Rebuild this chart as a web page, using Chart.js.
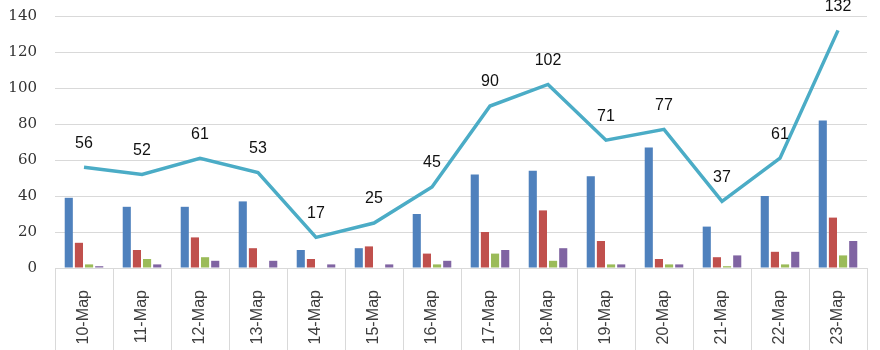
<!DOCTYPE html>
<html>
<head>
<meta charset="utf-8">
<script src="https://cdn.jsdelivr.net/npm/chart.js@4.4.0/dist/chart.umd.min.js"></script>
<style>
  html, body { margin: 0; padding: 0; background: #fff; }
  #wrap { width: 880px; height: 350px; }
</style>
</head>
<body>
<div id="wrap"><canvas id="chart"></canvas></div>
<script>
const days = ['10-Мар', '11-Мар', '12-Мар', '13-Мар', '14-Мар', '15-Мар', '16-Мар',
  '17-Мар', '18-Мар', '19-Мар', '20-Мар', '21-Мар', '22-Мар', '23-Мар'];
const blueVals = [39, 34, 34, 37, 10, 11, 30, 52, 54, 51, 67, 23, 40, 82];
const redVals = [14, 10, 17, 11, 5, 12, 8, 20, 32, 15, 5, 6, 9, 28];
const greenVals = [2, 5, 6, 0, 0, 0, 2, 8, 4, 2, 2, 1, 2, 7];
const purpleVals = [1, 2, 4, 4, 2, 2, 4, 10, 11, 2, 2, 7, 9, 15];
const totalVals = [56, 52, 61, 53, 17, 25, 45, 90, 102, 71, 77, 37, 61, 132];
const yTicks = [0, 20, 40, 60, 80, 100, 120, 140];

// line value labels, drawn above each point
const lineLabels = {
  id: 'lineLabels',
  afterDatasetsDraw(chart) {
    const ctx = chart.ctx;
    const meta = chart.getDatasetMeta(4);
    ctx.save();
    ctx.font = '16px "Liberation Sans", Arial, sans-serif';
    ctx.fillStyle = '#111';
    ctx.textAlign = 'center';
    ctx.textBaseline = 'middle';
    meta.data.forEach((pt, i) => {
      ctx.fillText(String(totalVals[i]), pt.x, pt.y - 24);
    });
    ctx.restore();
  }
};

// category separators through the label area
const separators = {
  id: 'separators',
  afterDraw(chart) {
    const ctx = chart.ctx;
    const x = chart.scales.x;
    const half = (x.getPixelForValue(1) - x.getPixelForValue(0)) / 2;
    ctx.save();
    ctx.strokeStyle = '#d9d9d9';
    ctx.lineWidth = 1;
    for (let i = 0; i <= days.length; i++) {
      const px = Math.round(x.getPixelForValue(0) - half + i * half * 2) + 0.5;
      ctx.beginPath();
      ctx.moveTo(px, chart.chartArea.bottom);
      ctx.lineTo(px, chart.height);
      ctx.stroke();
    }
    ctx.restore();
  }
};

const bar = (data, color) => ({
  type: 'bar', data, backgroundColor: color,
  categoryPercentage: 0.7, barPercentage: 0.8, order: 2
});

new Chart(document.getElementById('chart'), {
  data: {
    labels: days,
    datasets: [
      bar(blueVals, '#4f81bd'),
      bar(redVals, '#c0504d'),
      bar(greenVals, '#9bbb59'),
      bar(purpleVals, '#8064a2'),
      {
        type: 'line', data: totalVals, borderColor: '#4bacc6', borderWidth: 3.5,
        pointRadius: 0, tension: 0, order: 1
      }
    ]
  },
  options: {
    responsive: true,
    maintainAspectRatio: false,
    animation: false,
    layout: { padding: { top: 0, right: 13, bottom: 0, left: 0 } },
    plugins: { legend: { display: false }, tooltip: { enabled: false } },
    scales: {
      x: {
        grid: { display: false },
        border: { display: true, color: '#d9d9d9' },
        ticks: {
          autoSkip: false, maxRotation: 90, minRotation: 90, padding: 14,
          color: '#404040', font: { family: '"Liberation Sans", Arial, sans-serif', size: 16 }
        },
        afterFit(scale) { scale.height = 82; }
      },
      y: {
        min: 0, max: 140,
        afterBuildTicks(scale) { scale.ticks = yTicks.map(v => ({ value: v })); },
        grid: { color: '#d9d9d9', drawTicks: false },
        border: { display: false },
        ticks: {
          padding: 18, color: '#333',
          font: { family: '"DejaVu Serif", "Liberation Serif", serif', size: 15 }
        },
        afterFit(scale) {
          scale.width = 55;
          scale.paddingTop = 16;
          scale.paddingBottom = 0;
        }
      }
    }
  },
  plugins: [lineLabels, separators]
});
</script>
</body>
</html>
